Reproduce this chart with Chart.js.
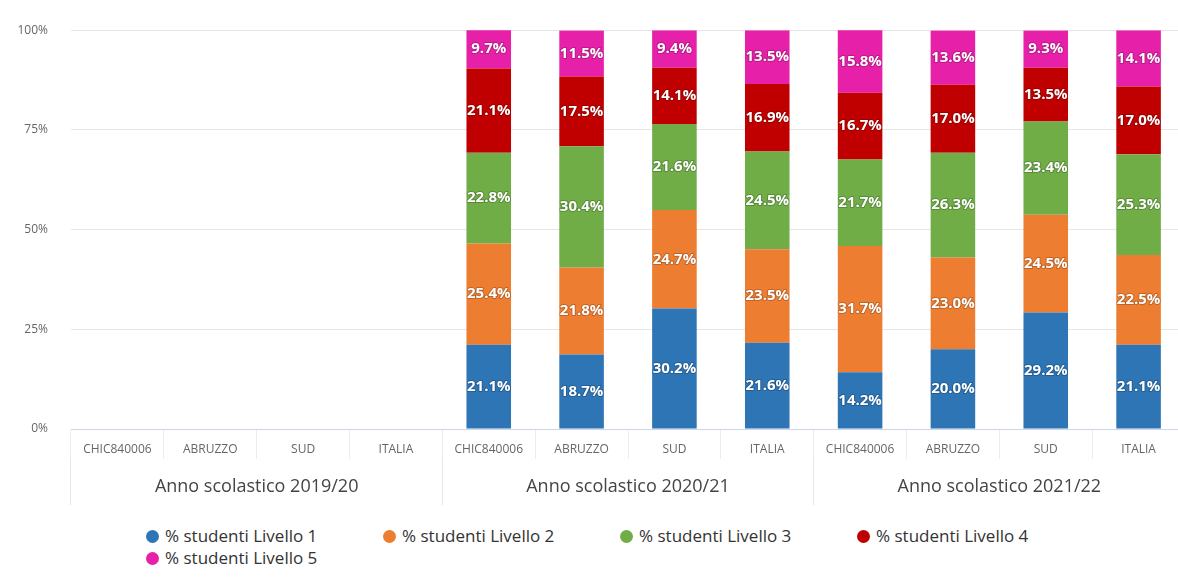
<!DOCTYPE html>
<html>
<head>
<meta charset="utf-8">
<script src="https://cdn.jsdelivr.net/npm/chart.js@4.4.0/dist/chart.umd.min.js"></script>
<style>
  html, body { margin: 0; padding: 0; background: #fff; overflow: hidden; }
  #wrap { position: relative; width: 1178px; height: 581px; overflow: hidden; }
  #chart { position: absolute; left: 0; top: 0; }
  #legend { position: absolute; left: 0; top: 0; font-family: "Open Sans", sans-serif; font-size: 17px; color: #333; }
  .item { position: absolute; white-space: nowrap; line-height: 20px; }
  .dot { position: absolute; width: 13px; height: 13px; border-radius: 50%; left: -7px; top: 4px; }
</style>
</head>
<body>
<div id="wrap">
  <canvas id="chart" width="1192" height="505"></canvas>
  <div id="legend"></div>
</div>
<script>
// categorie e gruppi (anni scolastici)
const categories = [
  'CHIC840006', 'ABRUZZO', 'SUD', 'ITALIA',
  'CHIC840006', 'ABRUZZO', 'SUD', 'ITALIA',
  'CHIC840006', 'ABRUZZO', 'SUD', 'ITALIA'
];
const years = ['Anno scolastico 2019/20', 'Anno scolastico 2020/21', 'Anno scolastico 2021/22'];

const seriesNames = [
  '% studenti Livello 1',
  '% studenti Livello 2',
  '% studenti Livello 3',
  '% studenti Livello 4',
  '% studenti Livello 5'
];
const seriesColors = ['#2E75B6', '#ED7D31', '#70AD47', '#C00000', '#E620A8'];

// valori per livello (2019/20 senza dati)
const livello1 = [null, null, null, null, 21.1, 18.7, 30.2, 21.6, 14.2, 20.0, 29.2, 21.1];
const livello2 = [null, null, null, null, 25.4, 21.8, 24.7, 23.5, 31.7, 23.0, 24.5, 22.5];
const livello3 = [null, null, null, null, 22.8, 30.4, 21.6, 24.5, 21.7, 26.3, 23.4, 25.3];
const livello4 = [null, null, null, null, 21.1, 17.5, 14.1, 16.9, 16.7, 17.0, 13.5, 17.0];
const livello5 = [null, null, null, null, 9.7, 11.5, 9.4, 13.5, 15.8, 13.6, 9.3, 14.1];

const yTicks = [0, 25, 50, 75, 100];

const allSeries = [livello1, livello2, livello3, livello4, livello5];

// etichette bianche al centro di ogni segmento
const segmentLabels = {
  id: 'segmentLabels',
  afterDatasetsDraw(chart) {
    const ctx = chart.ctx;
    ctx.save();
    ctx.font = 'bold 15px "Open Sans", sans-serif';
    ctx.textAlign = 'center';
    ctx.textBaseline = 'middle';
    ctx.lineJoin = 'round';
    chart.data.datasets.forEach((ds, i) => {
      chart.getDatasetMeta(i).data.forEach((el, j) => {
        const v = ds.data[j];
        if (v == null) return;
        const txt = v.toFixed(1) + '%';
        const y = (el.y + el.base) / 2;
        ctx.lineWidth = 2;
        ctx.strokeStyle = 'rgba(0,0,0,0.2)';
        ctx.strokeText(txt, el.x, y);
        ctx.fillStyle = '#fff';
        ctx.fillText(txt, el.x, y);
      });
    });
    ctx.restore();
  }
};

const ctx = document.getElementById('chart').getContext('2d');
new Chart(ctx, {
  type: 'bar',
  data: {
    labels: categories,
    datasets: allSeries.map((d, i) => ({
      label: seriesNames[i],
      data: d,
      backgroundColor: seriesColors[i],
      borderWidth: 0,
      categoryPercentage: 1,
      barPercentage: 0.48,
      xAxisID: 'x'
    }))
  },
  options: {
    responsive: false,
    animation: false,
    layout: { padding: { top: 14, right: 7, left: 0, bottom: 0 } },
    plugins: {
      legend: { display: false },
      tooltip: { enabled: false }
    },
    scales: {
      x: {
        stacked: true,
        position: 'bottom',
        weight: 0,
        grid: { offset: true, drawOnChartArea: false, color: '#ececec', tickLength: 30 },
        border: { color: '#ccd6eb' },
        ticks: {
          font: { family: '"Open Sans", sans-serif', size: 12 },
          color: '#666',
          padding: -17,
          maxRotation: 0,
          autoSkip: false
        },
        afterFit(s) { s.height = 30; }
      },
      x2: {
        type: 'category',
        labels: years,
        position: 'bottom',
        weight: 1,
        offset: true,
        grid: { offset: true, drawOnChartArea: false, color: '#e6e6e6', tickLength: 46 },
        border: { display: false },
        ticks: {
          font: { family: '"Open Sans", sans-serif', size: 18 },
          color: '#444',
          padding: -29,
          maxRotation: 0
        },
        afterFit(s) { s.height = 46; }
      },
      y: {
        stacked: true,
        min: 0,
        max: 100,
        afterBuildTicks(s) { s.ticks = yTicks.map(v => ({ value: v })); },
        grid: { color: '#e6e6e6', drawTicks: false },
        border: { display: false },
        ticks: {
          font: { family: '"Open Sans", sans-serif', size: 12 },
          color: '#666',
          padding: 23,
          callback: v => v + '%'
        },
        afterFit(s) { s.width = 71; }
      }
    }
  },
  plugins: [segmentLabels]
});

// legenda su due righe, larghezza fissa per voce
const legend = document.getElementById('legend');
seriesNames.forEach((name, i) => {
  const row = Math.floor(i / 4), col = i % 4;
  const item = document.createElement('div');
  item.className = 'item';
  item.style.left = (153 + col * 237) + 'px';
  item.style.top = (526 + row * 22) + 'px';
  item.innerHTML = '<span class="dot" style="background:' + seriesColors[i] + '"></span>' +
    '<span style="margin-left:12px">' + name + '</span>';
  legend.appendChild(item);
});
</script>
</body>
</html>
